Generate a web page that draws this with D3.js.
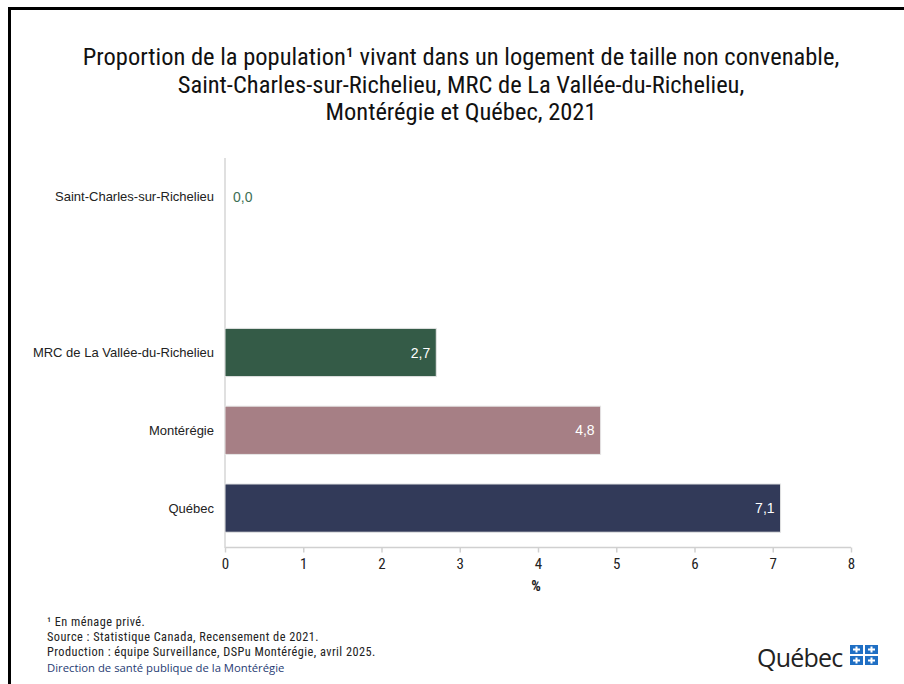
<!DOCTYPE html>
<html><head><meta charset="utf-8">
<script src="https://cdn.jsdelivr.net/npm/d3@7"></script>
<style>html,body{margin:0;padding:0;background:#fff;}svg{display:block;}</style>
</head><body>
<svg id="c" width="904" height="684"></svg>
<script>
const categories = ["Saint-Charles-sur-Richelieu", "", "MRC de La Vallée-du-Richelieu", "Montérégie", "Québec"];
const values = [0.0, null, 2.7, 4.8, 7.1];
const barColors = ["#3a6b50", null, "#345b47", "#a67f85", "#323a59"];
const tickValues = [0, 1, 2, 3, 4, 5, 6, 7, 8];
const titleLines = ["Proportion de la population\u00b9 vivant dans un logement de taille non convenable,",
  "Saint-Charles-sur-Richelieu, MRC de La Vallée-du-Richelieu,",
  "Montérégie et Québec, 2021"];
const footLines = ["\u00b9 En ménage privé.", "Source : Statistique Canada, Recensement de 2021.",
  "Production : équipe Surveillance, DSPu Montérégie, avril 2025."];

const svg = d3.select("#c");
// frame
svg.append("path").attr("d", "M9.5,684 V8.5 H904").attr("fill", "none").attr("stroke", "#000").attr("stroke-width", 3);

const narrow = "'Liberation Sans Narrow', 'Roboto Condensed', 'Liberation Sans', sans-serif";
const t = svg.append("text").attr("text-anchor", "middle").attr("font-family", narrow)
  .attr("font-size", 24.5).attr("fill", "#111");
const titleY = [65, 93, 120];
titleLines.forEach((l, i) => {
  t.append("tspan").attr("x", 461).attr("y", titleY[i]).text(l);
});

const x = d3.scaleLinear().domain([0, 8]).range([225, 851]);
const y = d3.scaleBand().domain(d3.range(categories.length)).range([158, 547]).paddingInner(0.38).paddingOuter(0.19);

// x axis
const xa = svg.append("g").attr("transform", "translate(0,547.5)")
  .call(d3.axisBottom(x).tickValues(tickValues).tickSize(5).tickPadding(6).tickFormat(d3.format("d")));
xa.select(".domain").attr("stroke", "#d0d0d0").attr("stroke-width", 1.5).attr("d", "M225,0H851");
xa.selectAll(".tick line").attr("stroke", "#d0d0d0").attr("stroke-width", 1.5);
xa.selectAll(".tick text").attr("font-family", narrow).attr("font-size", 15).attr("fill", "#222");

// y axis line
svg.append("line").attr("x1", x(0)).attr("x2", x(0)).attr("y1", 158).attr("y2", 548)
  .attr("stroke", "#d6d6d6").attr("stroke-width", 1.5);

svg.append("text").attr("x", 536).attr("y", 591).attr("text-anchor", "middle")
  .attr("font-family", narrow).attr("font-size", 15).attr("font-weight", "bold").attr("fill", "#222").text("%");

const fmt = v => d3.format(".1f")(v).replace(".", ",");
const idx = d3.range(categories.length).filter(i => values[i] !== null);

svg.selectAll("rect.bar").data(idx).join("rect").attr("class", "bar")
  .attr("x", x(0)).attr("y", i => y(i)).attr("height", y.bandwidth())
  .attr("width", i => x(values[i]) - x(0)).attr("fill", i => barColors[i])
  .attr("stroke", "#e6e6e6").attr("stroke-width", i => values[i] > 0 ? 1 : 0);

// category labels
svg.selectAll("text.cat").data(idx).join("text").attr("class", "cat")
  .attr("x", 214).attr("y", i => y(i) + y.bandwidth() / 2 + 4.5).attr("text-anchor", "end")
  .attr("font-family", "'Liberation Sans', Arial, sans-serif").attr("font-size", 13).attr("fill", "#222")
  .text(i => categories[i]);

// value labels
svg.selectAll("text.val").data(idx).join("text").attr("class", "val")
  .attr("x", i => values[i] > 0 ? x(values[i]) - 6 : x(0) + 8)
  .attr("y", i => y(i) + y.bandwidth() / 2 + 5)
  .attr("text-anchor", i => values[i] > 0 ? "end" : "start")
  .attr("font-family", "'Liberation Sans', Arial, sans-serif").attr("font-size", 14)
  .attr("fill", i => values[i] > 0 ? "#fff" : "#3d6f55").text(i => fmt(values[i]));

// footnotes
const fy = [626, 641, 656];
footLines.forEach((l, i) => {
  svg.append("text").attr("x", 47).attr("y", fy[i]).attr("font-family", narrow)
    .attr("font-size", 12.3).attr("letter-spacing", 0.45).attr("fill", "#222").text(l);
});
svg.append("text").attr("x", 47).attr("y", 672).attr("font-family", "'Open Sans', 'Noto Sans', sans-serif")
  .attr("font-size", 11.3).attr("fill", "#1f3b73").text("Direction de santé publique de la Montérégie");

// Québec logo
svg.append("text").attr("x", 757).attr("y", 667).attr("font-family", "'Open Sans', 'Noto Sans', sans-serif")
  .attr("font-size", 25).attr("fill", "#222").attr("letter-spacing", -0.8).text("Québec");
const lg = svg.append("g").attr("transform", "translate(850,645)");
[[0,0],[15,0],[0,11],[15,11]].forEach(([dx, dy]) => {
  lg.append("rect").attr("x", dx).attr("y", dy).attr("width", 13).attr("height", 9).attr("fill", "#1f6fc4");
  lg.append("rect").attr("x", dx + 5.5).attr("y", dy + 1.5).attr("width", 2).attr("height", 6).attr("fill", "#fff");
  lg.append("rect").attr("x", dx + 3).attr("y", dy + 3.5).attr("width", 7).attr("height", 2).attr("fill", "#fff");
});
</script>
</body></html>
